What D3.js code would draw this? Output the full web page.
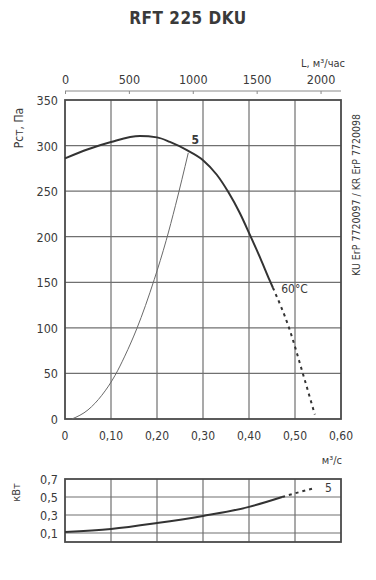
<!DOCTYPE html>
<html>
<head>
<meta charset="utf-8">
<script src="https://cdn.jsdelivr.net/npm/d3@7"></script>
<style>
  body { margin: 0; background: #fff; }
  svg text { font-family: 'DejaVu Sans Condensed', 'Liberation Sans Narrow', 'Noto Sans', sans-serif; fill: #3a3a3a; }
</style>
</head>
<body>
<div id="root"></div>
<script>
// Flow ticks, m3/s, and pressure ticks, Pa
const flowTicks = [0, 0.1, 0.2, 0.3, 0.4, 0.5, 0.6]
const pressureTicks = [0, 50, 100, 150, 200, 250, 300, 350]
const flowHourTicks = [0, 500, 1000, 1500, 2000]
const powerTicks = [0.1, 0.3, 0.5, 0.7]

// Fan curve (solid part), [m3/s, Pa]
const fanCurve = [
  [0, 286], [0.05, 296], [0.10, 304], [0.163, 310.5], [0.20, 309], [0.228, 304],
  [0.265, 295], [0.30, 284], [0.33, 268], [0.355, 249], [0.38, 226], [0.402, 202],
  [0.425, 176], [0.445, 152], [0.452, 144]
]
// Fan curve at 60 °C (dashed part)
const fanCurveHot = [
  [0.452, 144], [0.487, 100], [0.517, 50], [0.543, 5]
]
// System curve 5
const systemCurve = [
  [0.015, 0], [0.05, 10], [0.08, 26], [0.109, 48], [0.13, 69], [0.156, 99],
  [0.194, 153], [0.22, 196], [0.24, 234], [0.268, 292]
]
// Power, [m3/s, kW]
const powerCurve = [
  [0, 0.11], [0.10, 0.144], [0.20, 0.21], [0.30, 0.29], [0.40, 0.39], [0.472, 0.50]
]
const powerCurveHot = [
  [0.472, 0.50], [0.51, 0.555], [0.543, 0.60]
]

const width = 376
const height = 580
const left = 65
const right = 341

const svg = d3.select('#root').append('svg')
  .attr('width', width)
  .attr('height', height)

const x = d3.scaleLinear().domain([0, 0.6]).range([left, right])
const xHour = d3.scaleLinear().domain([0, 0.6 * 3600]).range([left, right])
const y = d3.scaleLinear().domain([0, 350]).range([419, 100])
const yPow = d3.scaleLinear().domain([0, 0.7]).range([542, 479])

// Title
svg.append('text')
  .attr('x', 188).attr('y', 24)
  .attr('text-anchor', 'middle')
  .attr('font-size', '17px')
  .attr('font-weight', 'bold')
  .style('letter-spacing', '0.5px')
  .text('RFT 225 DKU')

// Grid lines main chart
const grid = svg.append('g').attr('stroke', '#707070').attr('stroke-width', 1.2)
grid.selectAll('line.v')
  .data(flowTicks.slice(1, -1))
  .join('line')
  .attr('x1', d => x(d)).attr('x2', d => x(d))
  .attr('y1', y(350)).attr('y2', y(0))
grid.selectAll('line.h')
  .data(pressureTicks.slice(1, -1))
  .join('line')
  .attr('class', 'h')
  .attr('x1', left).attr('x2', right)
  .attr('y1', d => y(d)).attr('y2', d => y(d))

svg.append('rect')
  .attr('x', left).attr('y', y(350))
  .attr('width', right - left).attr('height', y(0) - y(350))
  .attr('fill', 'none').attr('stroke', '#4a4a4a').attr('stroke-width', 1.8)

// Bottom axis labels
svg.append('g').selectAll('text')
  .data(flowTicks)
  .join('text')
  .attr('x', d => x(d)).attr('y', 440)
  .attr('text-anchor', 'middle')
  .attr('font-size', '12px')
  .text(d => d === 0 ? '0' : d3.format('.2f')(d).replace('.', ','))

// Left axis labels
svg.append('g').selectAll('text')
  .data(pressureTicks)
  .join('text')
  .attr('x', 58).attr('y', d => y(d) + 5)
  .attr('text-anchor', 'end')
  .attr('font-size', '12.5px')
  .text(d => d)

svg.append('text')
  .attr('transform', 'translate(23,128) rotate(-90)')
  .attr('text-anchor', 'middle')
  .attr('font-size', '12px')
  .text('Pст, Па')

// Top axis, m3/h
const topAxis = svg.append('g')
  .attr('transform', 'translate(0,91)')
  .call(d3.axisTop(xHour).tickValues(flowHourTicks).tickFormat(d3.format('d')).tickSize(-3).tickPadding(6))
topAxis.select('.domain').attr('stroke', '#8a8a8a').attr('d', `M${left},0H${right}`)
topAxis.selectAll('.tick line').attr('stroke', '#8a8a8a')
topAxis.selectAll('.tick text')
  .attr('font-size', '12.5px')
  .attr('fill', '#3a3a3a')
  .attr('dy', '-1px')
  .style('font-family', "'DejaVu Sans Condensed', 'Liberation Sans Narrow', sans-serif")

svg.append('text')
  .attr('x', 345).attr('y', 67)
  .attr('text-anchor', 'end')
  .attr('font-size', '11px')
  .text('L, м³/час')

// Right vertical label
svg.append('text')
  .attr('transform', 'translate(360,195) rotate(-90)')
  .attr('text-anchor', 'middle')
  .attr('font-size', '10.5px')
  .text('KU ErP 7720097 / KR ErP 7720098')

// Curves
const lineSmooth = d3.line().x(d => x(d[0])).y(d => y(d[1])).curve(d3.curveMonotoneX)

svg.append('path').datum(systemCurve)
  .attr('d', lineSmooth)
  .attr('fill', 'none').attr('stroke', '#6a6a6a').attr('stroke-width', 1)

svg.append('path').datum(fanCurve)
  .attr('d', lineSmooth)
  .attr('fill', 'none').attr('stroke', '#333').attr('stroke-width', 2)

svg.append('path').datum(fanCurveHot)
  .attr('d', lineSmooth)
  .attr('fill', 'none').attr('stroke', '#333').attr('stroke-width', 2)
  .attr('stroke-dasharray', '3,4')

svg.append('text')
  .attr('x', x(0.275)).attr('y', y(302))
  .attr('font-size', '12px').attr('font-weight', 'bold')
  .text('5')

svg.append('text')
  .attr('x', x(0.47)).attr('y', y(138))
  .attr('font-size', '12px')
  .text('60°C')

// Power chart
const pgrid = svg.append('g').attr('stroke', '#707070').attr('stroke-width', 1.2)
pgrid.selectAll('line.v')
  .data(flowTicks.slice(1, -1))
  .join('line')
  .attr('x1', d => x(d)).attr('x2', d => x(d))
  .attr('y1', yPow(0.7)).attr('y2', yPow(0))
pgrid.selectAll('line.h')
  .data(powerTicks.slice(0, -1))
  .join('line')
  .attr('class', 'h')
  .attr('x1', left).attr('x2', right)
  .attr('y1', d => yPow(d)).attr('y2', d => yPow(d))

svg.append('rect')
  .attr('x', left).attr('y', yPow(0.7))
  .attr('width', right - left).attr('height', yPow(0) - yPow(0.7))
  .attr('fill', 'none').attr('stroke', '#4a4a4a').attr('stroke-width', 1.8)

svg.append('g').selectAll('text')
  .data(powerTicks)
  .join('text')
  .attr('x', 58).attr('y', d => yPow(d) + 5)
  .attr('text-anchor', 'end')
  .attr('font-size', '12.5px')
  .text(d => d3.format('.1f')(d).replace('.', ','))

svg.append('text')
  .attr('transform', `translate(20,${yPow(0.55)}) rotate(-90)`)
  .attr('text-anchor', 'middle')
  .attr('font-size', '11px')
  .text('кВт')

svg.append('text')
  .attr('x', 342).attr('y', 464)
  .attr('text-anchor', 'end')
  .attr('font-size', '11px')
  .text('м³/с')

const linePow = d3.line().x(d => x(d[0])).y(d => yPow(d[1])).curve(d3.curveMonotoneX)
svg.append('path').datum(powerCurve)
  .attr('d', linePow)
  .attr('fill', 'none').attr('stroke', '#333').attr('stroke-width', 2)
svg.append('path').datum(powerCurveHot)
  .attr('d', linePow)
  .attr('fill', 'none').attr('stroke', '#333').attr('stroke-width', 2)
  .attr('stroke-dasharray', '3,4')

svg.append('text')
  .attr('x', x(0.565)).attr('y', yPow(0.56))
  .attr('font-size', '12px')
  .text('5')
</script>
</body>
</html>
